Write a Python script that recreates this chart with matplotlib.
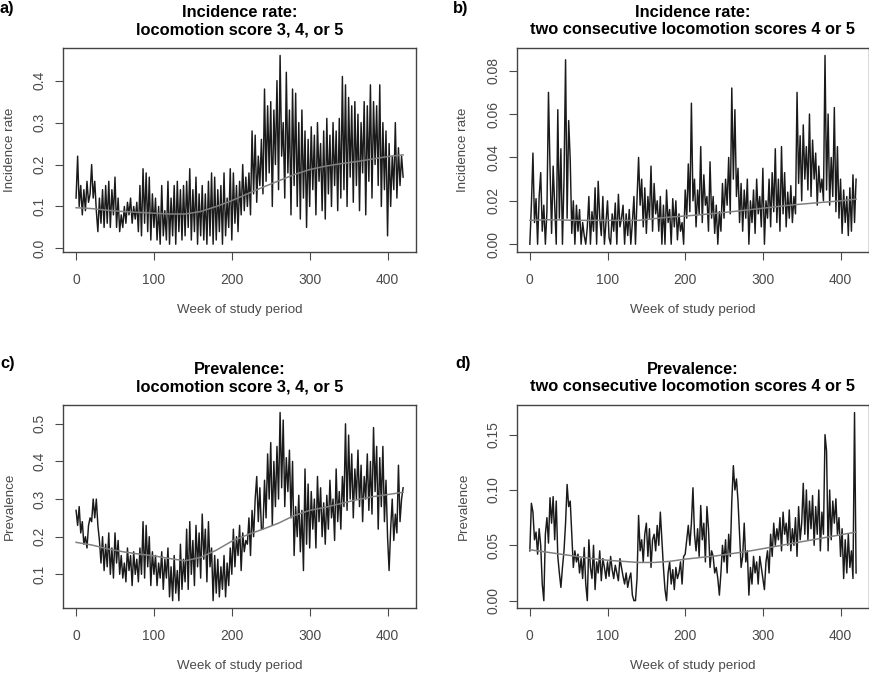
import numpy as np
import matplotlib
matplotlib.use("Agg")
import matplotlib.pyplot as plt

plt.rcParams['font.family'] = ['Liberation Sans', 'DejaVu Sans']

# weekly series sampled every 2 weeks (week 0 .. 420)
weeks = np.arange(0, 421, 2)
trend_weeks = np.arange(0, 421, 20)

# a) incidence rate, locomotion score 3-5 (x 0.01)
inc_any = [
    12, 22, 10, 15, 8, 14, 9, 16, 11, 13,
    20, 12, 16, 9, 4, 12, 6, 14, 5, 15,
    6, 16, 5, 14, 8, 17, 5, 12, 4, 8,
    5, 10, 6, 11, 8, 12, 6, 10, 7, 11,
    4, 15, 3, 19, 6, 18, 4, 17, 2, 13,
    5, 12, 2, 10, 1, 15, 3, 9, 2, 16,
    1, 12, 3, 15, 1, 16, 4, 14, 2, 15,
    3, 16, 5, 19, 2, 14, 4, 17, 1, 13,
    3, 15, 2, 13, 1, 16, 3, 18, 1, 17,
    2, 14, 4, 15, 1, 18, 3, 12, 5, 19,
    2, 18, 6, 15, 4, 16, 8, 20, 9, 17,
    10, 18, 8, 28, 13, 27, 11, 22, 15, 26,
    13, 38, 16, 34, 18, 35, 10, 33, 20, 40,
    14, 46, 22, 30, 12, 42, 18, 33, 8, 38,
    15, 37, 10, 30, 7, 33, 12, 28, 5, 26,
    10, 29, 14, 27, 8, 30, 16, 25, 9, 28,
    7, 31, 13, 27, 10, 30, 15, 28, 9, 31,
    12, 41, 14, 39, 10, 36, 17, 34, 11, 35,
    15, 32, 9, 30, 18, 35, 8, 34, 16, 39,
    12, 35, 20, 34, 15, 39, 10, 30, 14, 28,
    3, 25, 10, 22, 14, 30, 12, 24, 15, 22,
    17,
]
inc_any_trend = [9.7, 9.5, 9.1, 8.8, 8.6, 8.4, 8.2, 8.2, 8.8, 10.0, 11.4,
                 13.0, 14.6, 16.1, 17.6, 18.8, 19.6, 20.2, 20.7, 21.3, 21.9, 22.3]

# b) incidence rate, two consecutive scores 4 or 5 (x 0.001)
inc_two = [
    0, 18, 42, 10, 21, 0, 22, 33, 6, 18,
    0, 15, 70, 35, 5, 36, 18, 0, 62, 12,
    44, 0, 30, 85, 12, 57, 39, 5, 20, 0,
    18, 6, 16, 0, 10, 4, 0, 8, 22, 0,
    15, 6, 26, 0, 29, 12, 4, 22, 0, 10,
    20, 3, 0, 14, 6, 19, 0, 23, 8, 12,
    18, 0, 14, 4, 16, 0, 10, 22, 0, 21,
    40, 18, 30, 8, 26, 5, 22, 12, 36, 6,
    28, 14, 20, 6, 22, 0, 18, 0, 25, 10,
    16, 0, 21, 8, 20, 2, 14, 6, 10, 0,
    25, 12, 37, 15, 65, 20, 30, 8, 25, 14,
    45, 10, 32, 18, 22, 6, 38, 12, 22, 5,
    18, 0, 15, 6, 28, 12, 30, 18, 40, 14,
    72, 30, 62, 22, 35, 10, 28, 6, 25, 12,
    30, 0, 20, 10, 25, 5, 30, 14, 22, 8,
    35, 0, 20, 12, 30, 8, 33, 15, 44, 10,
    30, 6, 45, 14, 33, 8, 24, 12, 27, 10,
    22, 14, 70, 28, 50, 20, 55, 30, 45, 25,
    60, 22, 48, 30, 42, 18, 36, 24, 30, 20,
    87, 25, 60, 18, 40, 22, 63, 15, 45, 12,
    30, 5, 25, 10, 22, 4, 26, 6, 32, 10,
    30,
]
inc_two_trend = [11.0, 11.3, 11.2, 11.0, 11.0, 11.0, 11.0, 11.0, 11.8, 12.5, 13.0,
                 13.6, 14.3, 15.0, 15.8, 16.6, 17.4, 18.2, 18.8, 19.4, 20.0, 20.8]

# c) prevalence, locomotion score 3-5 (x 0.01)
prev_any = [
    27, 23, 28, 21, 24, 18, 20, 17, 23, 25,
    24, 30, 25, 30, 23, 19, 13, 20, 11, 18,
    12, 21, 10, 17, 9, 21, 13, 19, 10, 15,
    9, 13, 8, 17, 11, 15, 7, 16, 10, 14,
    8, 17, 10, 24, 9, 23, 12, 20, 7, 16,
    10, 15, 7, 13, 9, 16, 6, 14, 9, 17,
    4, 12, 3, 15, 5, 11, 3, 18, 6, 14,
    8, 22, 6, 24, 10, 19, 7, 23, 12, 21,
    9, 26, 14, 22, 8, 24, 12, 17, 3, 15,
    5, 14, 4, 12, 6, 15, 4, 13, 7, 17,
    10, 22, 12, 20, 15, 23, 11, 21, 16, 19,
    18, 25, 15, 27, 20, 30, 36, 24, 33, 22,
    22, 35, 25, 42, 30, 45, 23, 40, 28, 44,
    30, 53, 33, 51, 28, 41, 32, 43, 25, 40,
    15, 28, 20, 31, 16, 27, 11, 38, 18, 34,
    17, 32, 22, 30, 17, 36, 24, 33, 20, 29,
    18, 31, 22, 35, 25, 30, 19, 38, 24, 32,
    22, 36, 28, 50, 27, 47, 30, 42, 25, 38,
    30, 43, 28, 39, 24, 36, 30, 42, 27, 40,
    26, 49, 32, 44, 22, 41, 28, 44, 24, 35,
    20, 11, 22, 30, 19, 26, 21, 39, 24, 30,
    33,
]
prev_any_trend = [18.5, 17.8, 16.8, 16.0, 15.4, 14.9, 14.2, 13.6, 14.5, 16.4, 18.8,
                  20.5, 22.0, 23.6, 25.6, 27.0, 27.8, 28.8, 29.8, 30.6, 31.2, 31.8]

# d) prevalence, two consecutive scores 4 or 5 (x 0.001)
prev_two = [
    45, 88, 80, 55, 62, 42, 65, 50, 15, 0,
    60, 75, 52, 93, 70, 94, 55, 90, 40, 25,
    12, 30, 45, 70, 105, 85, 90, 60, 30, 45,
    35, 42, 25, 38, 20, 48, 15, 0, 55, 30,
    20, 50, 10, 35, 25, 45, 18, 38, 30, 20,
    35, 22, 40, 28, 20, 32, 25, 18, 38, 30,
    22, 15, 25, 12, 20, 25, 5, 0, 0, 20,
    77, 45, 55, 35, 60, 70, 40, 65, 30, 55,
    60, 45, 68, 50, 80, 55, 30, 10, 0, 25,
    35, 15, 28, 10, 30, 20, 25, 35, 15, 40,
    42, 55, 68, 50, 70, 102, 60, 45, 65, 40,
    86, 55, 70, 35, 85, 65, 30, 45, 40, 25,
    30, 20, 5, 25, 50, 35, 55, 25, 60, 40,
    90, 122, 100, 110, 90, 60, 30, 40, 70, 35,
    45, 5, 30, 15, 40, 25, 35, 15, 40, 30,
    20, 10, 35, 45, 25, 60, 40, 70, 50, 65,
    55, 75, 45, 80, 60, 70, 50, 82, 45, 65,
    50, 75, 40, 85, 55, 70, 106, 60, 100, 55,
    90, 65, 95, 50, 85, 60, 100, 45, 80, 60,
    150, 135, 45, 100, 55, 90, 70, 92, 60, 75,
    40, 65, 20, 55, 25, 60, 30, 45, 20, 170,
    25,
]
prev_two_trend = [46, 44, 42, 40, 38, 36.5, 35.5, 34.5, 34.5, 35.5, 37.5,
                  39, 40.5, 42.5, 44.5, 47, 49.5, 52, 54.5, 57, 59.5, 62]

TEXT_GREY = '#4a4a4a'


def draw_panel(ax, values, trend, scale, title, ylabel, yticks, fmt):
    """Draw one R-style time series panel with its smoothed trend."""
    ax.plot(weeks, np.array(values) * scale, color='#1a1a1a', lw=1.05)
    ax.plot(trend_weeks, np.array(trend) * scale, color='#808080', lw=1.1)
    ax.margins(x=0.04, y=0.04)
    ax.set_xticks([0, 100, 200, 300, 400])
    ax.set_yticks(yticks)
    ax.set_yticklabels([fmt.format(t) for t in yticks], rotation=90, va='center')
    ax.tick_params(colors=TEXT_GREY, labelsize=10, length=6, pad=9)
    ax.tick_params(axis='y', pad=6)
    for spine in ax.spines.values():
        spine.set_color('#444444')
        spine.set_linewidth(1.0)
    ax.set_title(title, fontsize=11.8, fontweight='bold', pad=10, linespacing=1.15)
    ax.set_xlabel("Week of study period", fontsize=9.6, color=TEXT_GREY, labelpad=12.5)
    ax.set_ylabel(ylabel, fontsize=9.6, color=TEXT_GREY, labelpad=12)


fig = plt.figure(figsize=(8.7, 6.75), dpi=100)
ax_a = fig.add_axes([0.0724, 0.627, 0.406, 0.302])
ax_b = fig.add_axes([0.594, 0.627, 0.405, 0.302])
ax_c = fig.add_axes([0.0724, 0.099, 0.406, 0.301])
ax_d = fig.add_axes([0.594, 0.099, 0.405, 0.301])

draw_panel(ax_a, inc_any, inc_any_trend, 0.01,
           "Incidence rate:\nlocomotion score 3, 4, or 5", "Incidence rate",
           [0.0, 0.1, 0.2, 0.3, 0.4], "{:.1f}")
draw_panel(ax_b, inc_two, inc_two_trend, 0.001,
           "Incidence rate:\ntwo consecutive locomotion scores 4 or 5", "Incidence rate",
           [0.0, 0.02, 0.04, 0.06, 0.08], "{:.2f}")
draw_panel(ax_c, prev_any, prev_any_trend, 0.01,
           "Prevalence:\nlocomotion score 3, 4, or 5", "Prevalence",
           [0.1, 0.2, 0.3, 0.4, 0.5], "{:.1f}")
draw_panel(ax_d, prev_two, prev_two_trend, 0.001,
           "Prevalence:\ntwo consecutive locomotion scores 4 or 5", "Prevalence",
           [0.0, 0.05, 0.10, 0.15], "{:.2f}")

for label, x, y in [("a)", 0.0, 0.988), ("b)", 0.521, 0.988),
                    ("c)", 0.0, 0.462), ("d)", 0.523, 0.462)]:
    fig.text(x, y, label, fontsize=11.8, fontweight='bold', va='center')

fig.savefig("out.png", dpi=100)
